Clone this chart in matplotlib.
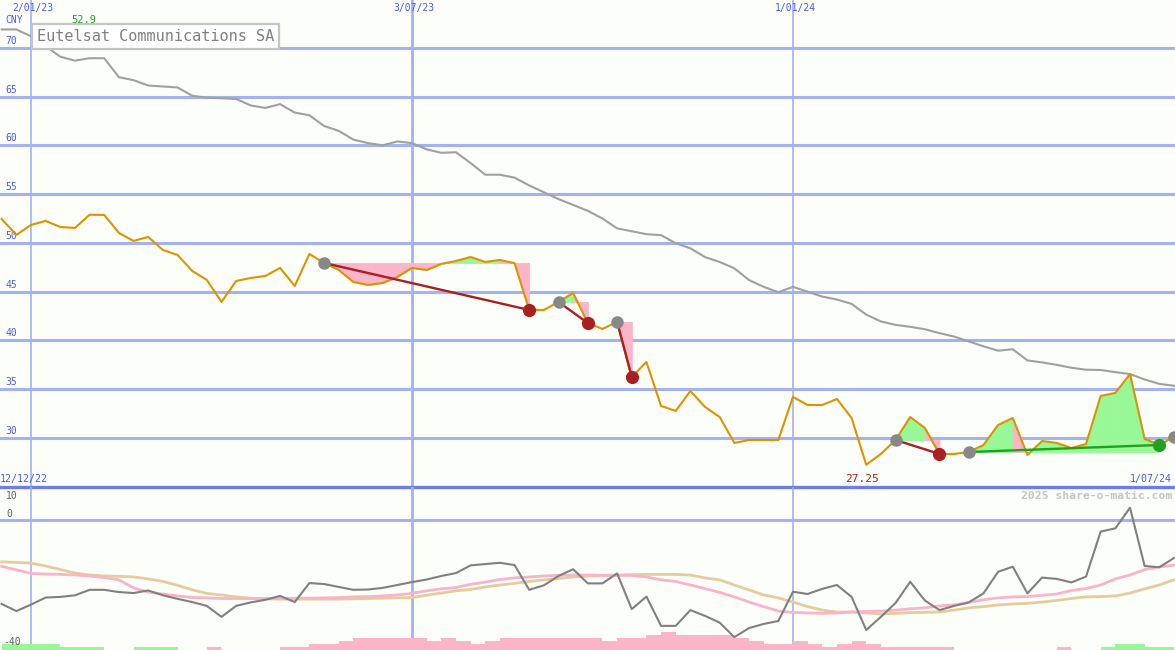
import matplotlib
matplotlib.use('Agg')
import matplotlib.pyplot as plt
import matplotlib.dates as mdates
import numpy as np
import pandas as pd

# weekly data, 19 Dec 2022 .. 1 Jul 2024
dates = pd.date_range('2022-12-19', '2024-07-01', freq='7D')

price = [52.46, 50.82, 51.85, 52.26, 51.64, 51.54, 52.9, 52.87, 51.03, 50.21,
         50.62, 49.28, 48.77, 47.13, 46.21, 43.95, 46.10, 46.41, 46.62, 47.44,
         45.59, 48.87, 47.95, 47.23, 46.0, 45.69, 45.90, 46.51, 47.44, 47.23,
         47.85, 48.15, 48.56, 48.05, 48.26, 47.93, 43.13, 43.13, 43.95, 44.87,
         41.79, 41.18, 41.90, 36.26, 37.79, 33.28, 32.77, 34.82, 33.18, 32.15,
         29.49, 29.79, 29.79, 29.79, 34.21, 33.38, 33.38, 34.0, 32.05, 27.25,
         28.36, 29.79, 32.15, 31.03, 28.36, 28.36, 28.56, 29.28, 31.33, 32.05,
         28.26, 29.69, 29.49, 28.97, 29.38, 34.31, 34.62, 36.56, 29.90, 29.28,
         30.1]

ma_long = [71.9, 71.9, 71.2, 70.2, 69.1, 68.7, 68.95, 68.95, 67.0, 66.7,
           66.15, 66.05, 65.95, 65.1, 64.9, 64.84, 64.77, 64.1, 63.85, 64.24,
           63.37, 63.1, 62.0, 61.5, 60.6, 60.24, 60.02, 60.41, 60.24, 59.6,
           59.25, 59.3, 58.2, 57.0, 57.0, 56.7, 55.9, 55.2, 54.5, 53.9,
           53.3, 52.5, 51.5, 51.2, 50.9, 50.8, 49.97, 49.45, 48.55, 48.05,
           47.4, 46.2, 45.5, 44.95, 45.5, 45.0, 44.5, 44.2, 43.75, 42.65,
           41.95, 41.6, 41.4, 41.15, 40.75, 40.4, 39.9, 39.4, 38.95, 39.1,
           37.95, 37.75, 37.5, 37.2, 37.0, 36.97, 36.75, 36.55, 36.0, 35.55,
           35.35]

osc = [-26.1, -28.3, -26.3, -24.1, -23.9, -23.4, -21.7, -21.7, -22.4, -22.7,
       -21.9, -23.4, -24.5, -25.5, -26.7, -30.1, -26.7, -25.6, -24.8, -23.6,
       -25.5, -19.6, -19.9, -20.8, -21.7, -21.6, -21.1, -20.2, -19.3, -18.5,
       -17.4, -16.5, -14.1, -13.7, -13.3, -14.0, -21.7, -20.3, -17.4, -15.3,
       -19.7, -19.7, -16.6, -27.7, -23.8, -32.9, -32.9, -28.0, -29.8, -31.9,
       -36.4, -33.6, -32.3, -31.4, -22.3, -23.0, -21.4, -20.2, -23.9, -34.2,
       -30.1, -25.8, -19.2, -25.0, -28.0, -26.7, -25.6, -22.8, -16.1, -14.5,
       -22.8, -17.9, -18.3, -19.4, -17.6, -3.6, -2.6, 3.8, -14.3, -14.7,
       -11.8]

osc_fast = [-14.4, -15.5, -16.6, -16.8, -16.9, -17.1, -17.4, -17.9, -18.6, -21.1,
            -22.4, -23.0, -23.6, -24.1, -24.2, -24.4, -24.4, -24.4, -24.4, -24.4,
            -24.3, -24.3, -24.2, -24.1, -23.9, -23.8, -23.6, -23.3, -22.8, -22.0,
            -21.4, -21.0, -20.0, -19.3, -18.5, -18.0, -17.7, -17.4, -17.2, -17.1,
            -17.1, -17.2, -17.2, -17.2, -17.7, -18.6, -19.1, -20.2, -21.3, -22.5,
            -23.9, -25.5, -26.9, -28.3, -28.7, -28.9, -29.0, -28.9, -28.6, -28.4,
            -28.3, -28.0, -27.6, -27.3, -26.7, -26.4, -25.6, -24.8, -24.2, -23.9,
            -23.8, -23.4, -23.0, -21.9, -21.3, -20.2, -18.3, -17.1, -15.4, -14.6,
            -14.0]

osc_slow = [-13.0, -13.2, -13.4, -14.3, -15.4, -16.5, -17.1, -17.4, -17.5, -17.7,
            -18.3, -19.1, -20.3, -21.7, -22.8, -23.3, -23.9, -24.3, -24.5, -24.6,
            -24.6, -24.6, -24.6, -24.6, -24.5, -24.4, -24.3, -24.2, -24.1, -23.4,
            -22.7, -22.0, -21.6, -20.8, -20.2, -19.7, -19.1, -18.6, -18.2, -17.7,
            -17.4, -17.2, -17.1, -17.0, -16.9, -16.9, -16.9, -17.1, -18.0, -18.6,
            -20.2, -21.7, -23.3, -24.2, -25.5, -26.9, -28.0, -28.6, -28.6, -28.9,
            -29.2, -29.0, -28.8, -28.7, -28.6, -28.0, -27.3, -26.9, -26.4, -26.1,
            -25.9, -25.5, -25.0, -24.4, -23.9, -23.8, -23.6, -22.7, -21.4, -20.2,
            -18.6]

# signed histogram steps at the bottom of the lower panel
hist = [2, 2, 2, 2, 1, 1, 1, 0, 0, 1, 1, 1, 0, 0, -1, 0, 0, 0, 0, -1,
        -1, -2, -2, -3, -4, -4, -4, -4, -4, -3, -4, -3, -2, -3, -4, -4, -4, -4, -4, -4,
        -4, -3, -4, -4, -5, -6, -5, -5, -5, -5, -4, -3, -2, -2, -3, -2, -1, -2, -3, -2,
        -1, -1, -1, -1, -1, 0, 0, 0, 0, 0, 0, 0, -1, 0, 0, 1, 2, 2, 1, 1,
        0]

# trades: (entry, exit)
trades = [('2023-05-22', '2023-08-28'),
          ('2023-09-11', '2023-09-25'),
          ('2023-10-09', '2023-10-16'),
          ('2024-02-19', '2024-03-11'),
          ('2024-03-25', '2024-06-24')]
open_entry = '2024-07-01'

vlines = ['2023-01-02', '2023-07-03', '2024-01-01']
vline_labels = ['2/01/23', '3/07/23', '1/01/24']
price_ticks = [30, 35, 40, 45, 50, 55, 60, 65, 70]

W, H = 1175, 650
BG = '#fcfefa'
GRID = '#a4b2f0'
BLUE = '#4a5af0'
PINK = '#fcb4c8'
GREEN = '#98f898'
MONO = 'DejaVu Sans Mono'

x = mdates.date2num(dates)
price = np.array(price)

fig = plt.figure(figsize=(W / 100, H / 100), dpi=100, facecolor=BG)
ax1 = fig.add_axes([0, 163 / H, 1, 487 / H])
ax2 = fig.add_axes([0, 0, 1, 163 / H])
left = mdates.date2num(pd.Timestamp('2023-01-02')) - 14.8
right = mdates.date2num(pd.Timestamp('2024-07-01')) + 0.5
for ax in (ax1, ax2):
    ax.set_facecolor(BG)
    ax.set_xlim(left, right)
    ax.axis('off')
ax1.set_ylim(24.97, 74.92)
ax2.set_ylim(-40.4, 10.25)

# grid
for v in price_ticks:
    ax1.axhline(v, color=GRID, lw=2.2, zorder=1)
    ax1.text(5 / W, v + 0.72, str(v), transform=ax1.get_yaxis_transform(),
             fontsize=7, family=MONO, color=BLUE, va='center', ha='left')
ax1.axhline(24.97, color='#6c7ce8', lw=2.4, zorder=5, clip_on=False)
ax2.axhline(0, color=GRID, lw=2.2, zorder=1)
for d, lab in zip(vlines, vline_labels):
    xd = mdates.date2num(pd.Timestamp(d))
    lw = 2.0 if lab == '3/07/23' else 1.2
    ax1.axvline(xd, color=GRID, lw=lw, zorder=1)
    ax2.axvline(xd, color=GRID, lw=lw, zorder=1)
    ax1.text(xd + 1, 1 - 8 / 487, lab, transform=ax1.get_xaxis_transform(),
             fontsize=7, family=MONO, color=BLUE, ha='center', va='center')

# trade fills: each weekly step coloured by where it ends vs the entry price
for en, ex in trades:
    i0 = dates.get_loc(pd.Timestamp(en))
    i1 = dates.get_loc(pd.Timestamp(ex))
    lvl = price[i0]
    for j in range(i0, i1):
        c = GREEN if price[j + 1] >= lvl else PINK
        ax1.fill_between(x[j:j + 2], lvl, price[j:j + 2], color=c,
                         lw=0.6, edgecolor=c, zorder=2)

ax1.plot(x, ma_long, color='#a0a0a0', lw=1.5, zorder=3)
ax1.plot(x, price, color='#db9400', lw=1.5, zorder=4)

for en, ex in trades:
    i0 = dates.get_loc(pd.Timestamp(en))
    i1 = dates.get_loc(pd.Timestamp(ex))
    win = price[i1] > price[i0]
    c = '#22a022' if win else '#a82020'
    ax1.plot([x[i0], x[i1]], [price[i0], price[i1]], color=c, lw=1.7, zorder=5)
    ax1.plot(x[i0], price[i0], 'o', color='#888888', ms=9, mew=0, zorder=6)
    ax1.plot(x[i1], price[i1], 'o', color=c, ms=9.5, mew=0, zorder=6)
io = dates.get_loc(pd.Timestamp(open_entry))
ax1.plot(x[io], price[io], 'o', color='#888888', ms=9, mew=0, zorder=6, clip_on=False)

# lower panel
ax2.plot(x, osc_slow, color='#e4cc9c', lw=2, zorder=3)
ax2.plot(x, osc_fast, color='#f8b4c8', lw=2, zorder=3)
ax2.plot(x, osc, color='#808080', lw=1.5, zorder=4)
hist = np.array(hist)
unit = 3 / 3.22
ax2.bar(x, np.abs(hist) * unit, bottom=-40.4, width=7, align='edge',
        color=np.where(hist > 0, GREEN, PINK), lw=0, zorder=2)

# labels
def px(xp, yp):
    return xp / W, 1 - yp / H

fig.text(*px(5, 20), 'CNY', fontsize=7, family=MONO, color=BLUE, va='center')
imax = int(np.argmax(price))
imin = int(np.argmin(price))
ax1.text(x[imax] - 3, 1 - 20 / 487, f'{price[imax]:.1f}', transform=ax1.get_xaxis_transform(),
         fontsize=7.5, family=MONO, color='#20a020', ha='center', va='center')
ax1.text(x[imin] - 2, 1 - 479 / 487, f'{price[imin]:.2f}', transform=ax1.get_xaxis_transform(),
         fontsize=8, family=MONO, color='#a82020', ha='center', va='center')
fig.text(*px(0, 479), '12/12/22', fontsize=7.2, family=MONO, color=BLUE, va='center')
fig.text(*px(1172, 479), '1/07/24', fontsize=7.2, family=MONO, color=BLUE,
         va='center', ha='right')
fig.text(*px(1172, 496), '2025 share-o-matic.com', fontsize=8.2, family=MONO,
         color='#c4c4c4', va='center', ha='right', fontweight='bold')
fig.text(*px(6, 496), '10', fontsize=7, family=MONO, color='#606060', va='center')
fig.text(*px(6, 514), '0', fontsize=7, family=MONO, color='#606060', va='center')
fig.text(*px(3, 642), '-40', fontsize=7, family=MONO, color='#606060', va='center')

fig.text(*px(37, 36.5), 'Eutelsat Communications SA', fontsize=11, family=MONO,
         color='#808080', va='center', ha='left', zorder=10,
         bbox=dict(facecolor='white', edgecolor='#c4c4c4', linewidth=1.6,
                   boxstyle='square,pad=0.3'))

fig.savefig('out.png', dpi=100, facecolor=BG)
